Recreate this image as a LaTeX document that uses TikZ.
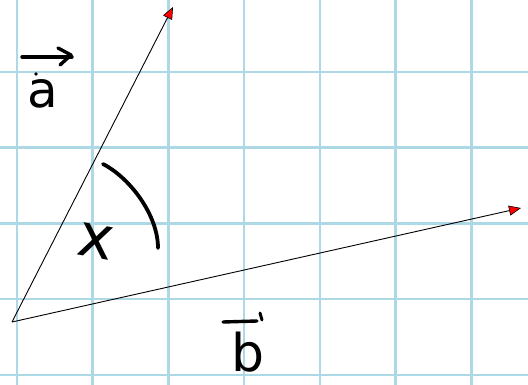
\documentclass[tikz,border=0pt]{standalone}
\usepackage{fontspec}
\setmainfont{DejaVu Sans}
\usetikzlibrary{arrows.meta}
\definecolor{gridblue}{RGB}{173,216,230}
\tikzset{
  gridline/.style={draw=gridblue, line width=2.6pt},
  vec/.style={draw=black, line width=0.9pt,
    -{Triangle[length=12pt,width=10pt,fill=red,line width=0.6pt]}},
  hand/.style={draw=black, line width=3.8pt, line cap=round, line join=round},
  lbl/.style={inner sep=0pt, font=\fontsize{50}{50}\selectfont}
}
\begin{document}
\begin{tikzpicture}[x=1pt,y=-1pt]
\useasboundingbox[fill=white] (0,0) rectangle (528,385);
% grid
\foreach \i in {0,...,6} {
  \draw[gridline] ({17+75.7*\i},0) -- ({17+75.7*\i},385);
}
\foreach \j in {0,...,4} {
  \draw[gridline] (0,{72+75.7*\j}) -- (528,{72+75.7*\j});
}
% vectors
\coordinate (O) at (12,322);
\coordinate (A) at (173,7);
\coordinate (B) at (521,208);
\draw[vec] (O) -- (A);
\draw[vec] (O) -- (B);
% angle arc
\coordinate (arcS) at (103,164);
\coordinate (arcE) at (158,248);
\draw[hand] (arcS) .. controls (130,178) and (158,215) .. (arcE);
% labels
\node[lbl] (la) at (43,94) {a};
\node[lbl, font=\fontsize{52}{52}\selectfont, anchor=base] (lb) at (248,371) {b};
\node[lbl, font=\fontsize{60}{60}\selectfont, rotate=-10] (lx) at (96,241) {x};
% arrow over a
\coordinate (aS) at (22,57);
\coordinate (aE) at (72,57);
\draw[hand, line width=3.4pt] (aS) -- (aE);
\draw[hand, line width=3.4pt] (58,48) -- (71,55) -- (60,65);
\fill (36,74) circle (1.8pt);
% bar over b
\coordinate (bS) at (223,322);
\coordinate (bE) at (257,321);
\draw[hand, line width=3.4pt] (bS) -- (bE);
\draw[hand, line width=3pt] (260,313) -- (262,320);
\end{tikzpicture}
\end{document}
